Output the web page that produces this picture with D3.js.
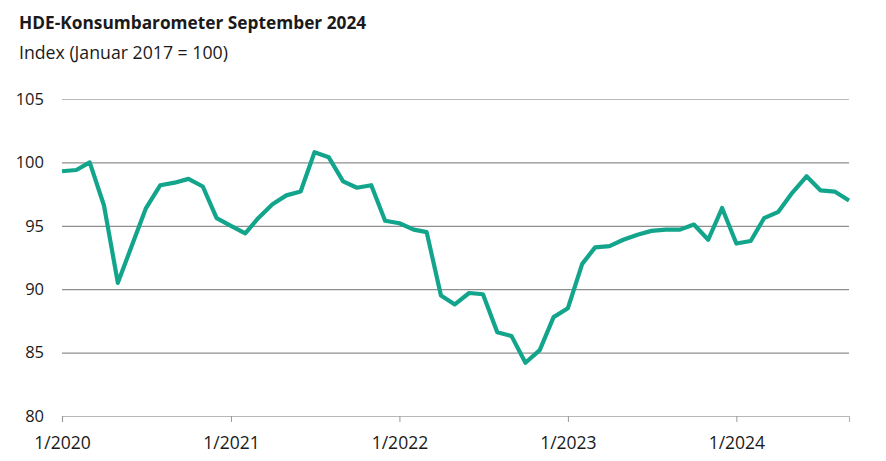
<!DOCTYPE html>
<html><head><meta charset="utf-8">
<script src="https://cdn.jsdelivr.net/npm/d3@7"></script>
<style>
body{margin:0;background:#fff;}
svg text{font-family:"Open Sans",sans-serif;fill:#1a1a1a;}
</style></head>
<body><svg id="c" width="886" height="461"></svg>
<script>
const title = "HDE-Konsumbarometer September 2024";
const subtitle = "Index (Januar 2017 = 100)";
const startYear = 2020, startMonth = 0;
const values = [
  99.3, 99.4, 100.0, 96.6, 90.5, 93.5, 96.4, 98.2, 98.4, 98.7, 98.1, 95.6,
  95.0, 94.4, 95.6, 96.7, 97.4, 97.7, 100.8, 100.4, 98.5, 98.0, 98.2, 95.4,
  95.2, 94.7, 94.5, 89.5, 88.8, 89.7, 89.6, 86.6, 86.3, 84.2, 85.2, 87.8,
  88.5, 92.0, 93.3, 93.4, 93.9, 94.3, 94.6, 94.7, 94.7, 95.1, 93.9, 96.4,
  93.6, 93.8, 95.6, 96.1, 97.6, 98.9, 97.8, 97.7, 97.0
];
const yTicks = [80, 85, 90, 95, 100, 105];
const xTickYears = [2020, 2021, 2022, 2023, 2024];

const dates = values.map((v, i) => new Date(startYear, startMonth + i, 1));
const data = values.map((v, i) => ({date: dates[i], value: v}));

const svg = d3.select("#c");
const margin = {left: 62, right: 37, top: 99, bottom: 45};
const W = 886, H = 461;

const x = d3.scaleTime()
  .domain([dates[0], dates[dates.length - 1]])
  .range([margin.left, W - margin.right]);
const y = d3.scaleLinear().domain([80, 105]).range([416, margin.top]);

svg.append("text").attr("x", 19).attr("y", 28.5)
  .attr("font-size", 17.3).attr("font-weight", 700).text(title);
svg.append("text").attr("x", 19).attr("y", 59)
  .attr("font-size", 17.7).text(subtitle);

// grid
const grid = svg.append("g")
  .attr("transform", `translate(${margin.left},0)`)
  .call(d3.axisLeft(y).tickValues(yTicks).tickSize(-(W - margin.right - margin.left)).tickFormat(""));
grid.select(".domain").remove();
grid.selectAll(".tick line").attr("stroke", d => (d === 80 || d === 105) ? "#b8b8b8" : "#8f8f8f").attr("stroke-width", 1.2);

// y labels
const yl = svg.append("g").attr("transform", `translate(44,0)`)
  .call(d3.axisLeft(y).tickValues(yTicks).tickSize(0).tickPadding(0));
yl.select(".domain").remove();
yl.selectAll(".tick text").attr("font-size", 16.5).attr("fill", "#1a1a1a")
  .style("font-family", '"Open Sans",sans-serif');

// x axis
const xa = svg.append("g").attr("transform", `translate(0,416)`)
  .call(d3.axisBottom(x)
    .tickValues(xTickYears.map(yr => new Date(yr, 0, 1)))
    .tickSize(6).tickPadding(15)
    .tickFormat(d => "1/" + d.getFullYear()));
xa.select(".domain").attr("stroke", "#b8b8b8").attr("stroke-width", 1.2);
xa.selectAll(".tick line").attr("stroke", "#999");
xa.selectAll(".tick text").attr("font-size", 17.5).attr("fill", "#1a1a1a")
  .style("font-family", '"Open Sans",sans-serif');

// line
const line = d3.line().x(d => x(d.date)).y(d => y(d.value));
svg.append("path").datum(data)
  .attr("fill", "none").attr("stroke", "#12a58c")
  .attr("stroke-width", 4.2).attr("stroke-linejoin", "round").attr("stroke-linecap", "butt")
  .attr("d", line);
</script></body></html>
